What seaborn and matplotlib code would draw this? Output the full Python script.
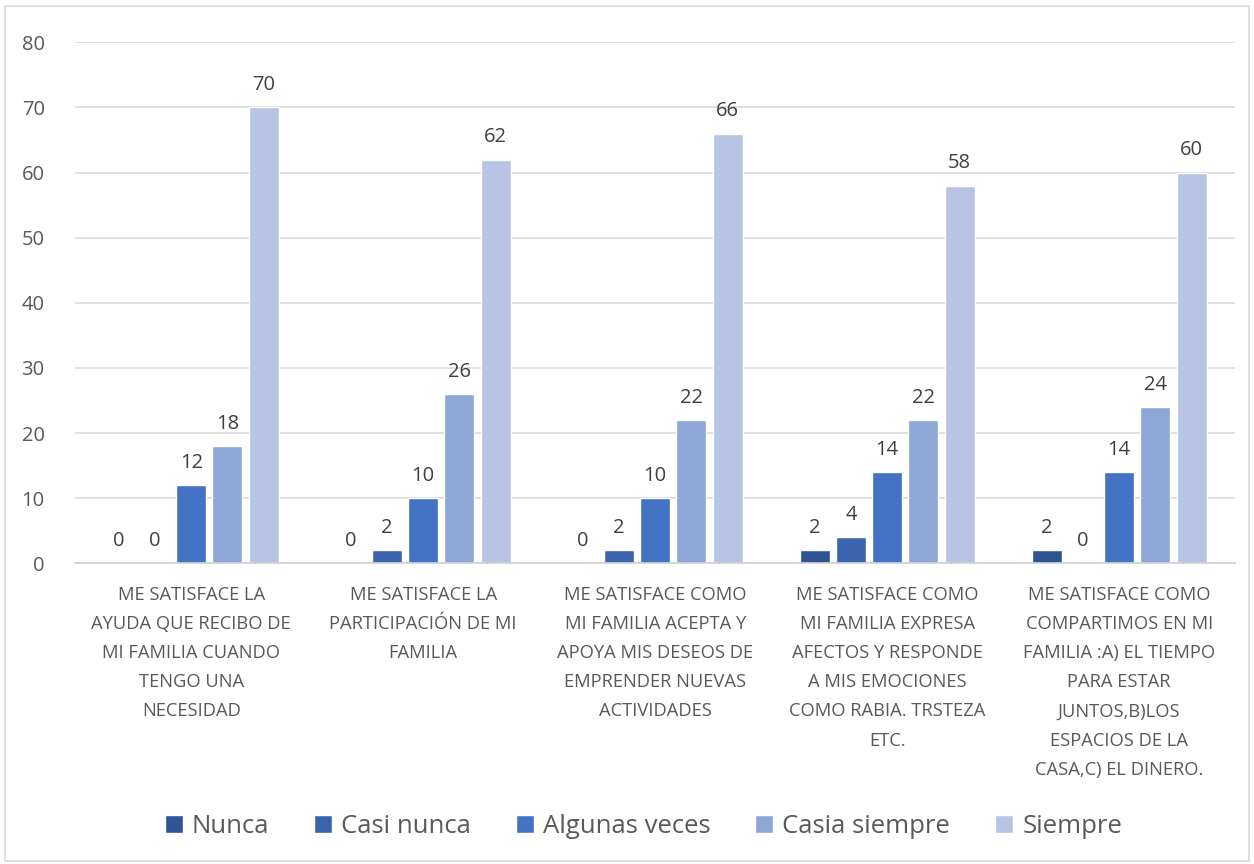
import matplotlib
matplotlib.use("Agg")
import matplotlib.pyplot as plt
import seaborn as sns
import pandas as pd

# Data
categories = [
    "ME SATISFACE LA\nAYUDA QUE RECIBO DE\nMI FAMILIA CUANDO\nTENGO UNA\nNECESIDAD",
    "ME SATISFACE LA\nPARTICIPACIÓN DE MI\nFAMILIA",
    "ME SATISFACE COMO\nMI FAMILIA ACEPTA Y\nAPOYA MIS DESEOS DE\nEMPRENDER NUEVAS\nACTIVIDADES",
    "ME SATISFACE COMO\nMI FAMILIA EXPRESA\nAFECTOS Y RESPONDE\nA MIS EMOCIONES\nCOMO RABIA. TRSTEZA\nETC.",
    "ME SATISFACE COMO\nCOMPARTIMOS EN MI\nFAMILIA :A) EL TIEMPO\nPARA ESTAR\nJUNTOS,B)LOS\nESPACIOS DE LA\nCASA,C) EL DINERO.",
]
series = ["Nunca", "Casi nunca", "Algunas veces", "Casia siempre", "Siempre"]
nunca = [0, 0, 0, 2, 2]
casi_nunca = [0, 2, 2, 4, 0]
algunas_veces = [12, 10, 10, 14, 14]
casia_siempre = [18, 26, 22, 22, 24]
siempre = [70, 62, 66, 58, 60]
colors = ["#2F5597", "#3A64AD", "#4472C4", "#8FA7D6", "#B8C4E4"]

values = [nunca, casi_nunca, algunas_veces, casia_siempre, siempre]
rows = []
for s, vals in zip(series, values):
    for c, v in zip(categories, vals):
        rows.append({"cat": c, "serie": s, "valor": v})
df = pd.DataFrame(rows)

sns.set_style("white")
plt.rcParams["font.family"] = ["Open Sans", "DejaVu Sans"]

fig = plt.figure(figsize=(12.54, 8.64), dpi=100)
ax = fig.add_axes([0.06, 0.348, 0.925, 0.603])

sns.barplot(data=df, x="cat", y="valor", hue="serie", hue_order=series,
            order=categories, palette=colors, width=0.78, gap=0.17,
            saturation=1, ax=ax)

for cont in ax.containers:
    ax.bar_label(cont, fmt="%d", padding=9, fontsize=14.5, color="#404040")

ax.set_ylim(0, 80)
ax.set_yticks(range(0, 81, 10))
ax.yaxis.grid(True, color="#D9D9D9", linewidth=1.2)
ax.set_axisbelow(True)
for side in ["top", "right", "left"]:
    ax.spines[side].set_visible(False)
ax.spines["bottom"].set_color("#D0D0D0")
ax.spines["bottom"].set_linewidth(1.2)
ax.tick_params(axis="y", length=0, labelsize=14.5, colors="#595959", pad=22)
ax.tick_params(axis="x", length=0, labelsize=13.2, colors="#595959", pad=16)
for lbl in ax.get_xticklabels():
    lbl.set_linespacing(1.8)
ax.set_xlabel("")
ax.set_ylabel("")

handles, labels = ax.get_legend_handles_labels()
ax.legend_.remove()
fig.legend(handles, labels, loc="center", bbox_to_anchor=(0.513, 0.043), ncol=5,
           frameon=False, fontsize=18.5, handlelength=0.7, handleheight=0.7,
           handletextpad=0.35, columnspacing=1.75, labelcolor="#595959")

fig.patches.append(plt.Rectangle((0.004, 0.003), 0.992, 0.99, transform=fig.transFigure,
                                 fill=False, edgecolor="#D9D9D9", linewidth=1.2))

fig.savefig("out.png", dpi=100)
